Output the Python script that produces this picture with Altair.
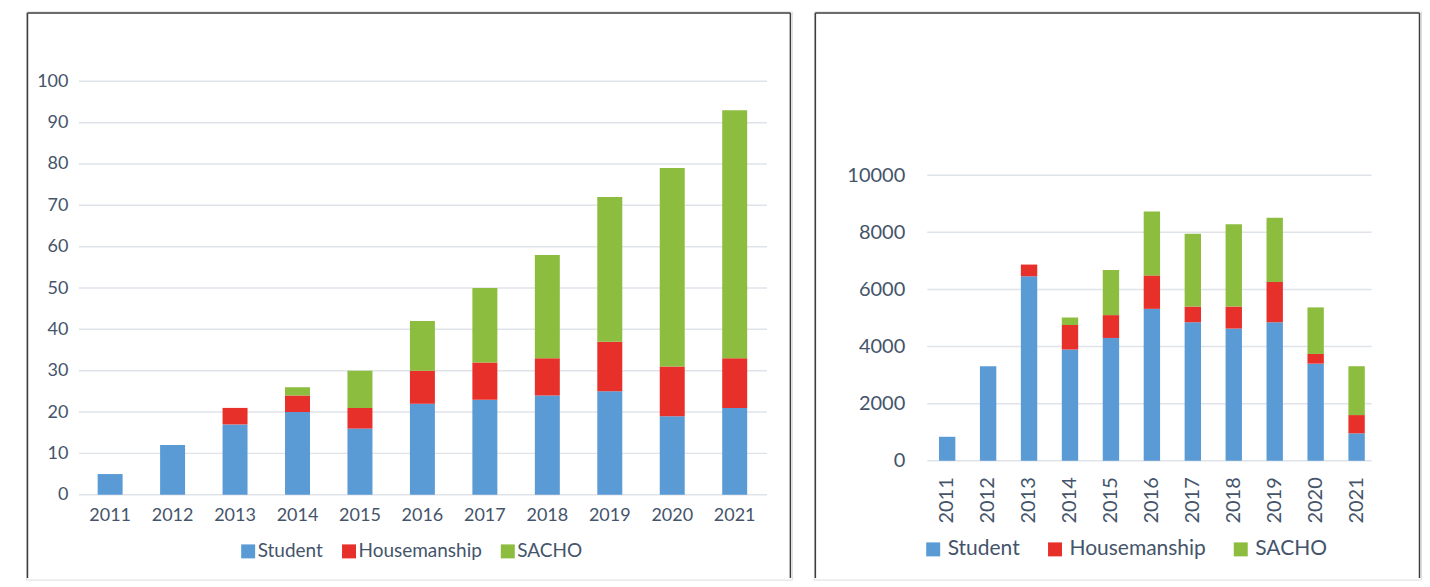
import altair as alt
import pandas as pd

years = [2011, 2012, 2013, 2014, 2015, 2016, 2017, 2018, 2019, 2020, 2021]
series = ["Student", "Housemanship", "SACHO"]
colors = ["#5b9bd5", "#e8302a", "#8cbd3f"]

left_student = [5, 12, 17, 20, 16, 22, 23, 24, 25, 19, 21]
left_house = [0, 0, 4, 4, 5, 8, 9, 9, 12, 12, 12]
left_sacho = [0, 0, 0, 2, 9, 12, 18, 25, 35, 48, 60]
left_ticks = [0, 10, 20, 30, 40, 50, 60, 70, 80, 90, 100]

right_student = [840, 3310, 6460, 3900, 4300, 5320, 4850, 4630, 4850, 3400, 960]
right_house = [0, 0, 410, 850, 800, 1170, 550, 770, 1410, 340, 640]
right_sacho = [0, 0, 0, 270, 1580, 2240, 2550, 2880, 2250, 1630, 1710]
right_ticks = [0, 2000, 4000, 6000, 8000, 10000]

FONT = "Lato"
TXT = "#44546a"
GRID = "#dfe4eb"
BOX = "#3c3c3c"


def long_df(a, b, c):
    rows = []
    for i, y in enumerate(years):
        for k, (s, vals) in enumerate(zip(series, [a, b, c])):
            rows.append({"year": str(y), "series": s, "idx": k, "value": vals[i]})
    return pd.DataFrame(rows)


def panel(df, ticks, W, H, xr, yr, grid_x, ylab_pad, xoff, xlab_pad, xangle,
          fsize, legx, legy, legfs, legoff, legcol):
    yscale = alt.Scale(domain=[ticks[0], ticks[-1]], range=yr, nice=False)
    yaxis = alt.Axis(
        values=ticks, format="d", domain=False, ticks=False, tickSize=0, grid=False,
        labelFont=FONT, labelFontSize=fsize, labelColor=TXT,
        offset=-xr[0], labelPadding=ylab_pad, title=None,
    )
    grid_df = pd.DataFrame({"value": ticks})
    grid = alt.Chart(grid_df).mark_rule(color=GRID, strokeWidth=1.5).encode(
        y=alt.Y("value:Q", scale=yscale, axis=yaxis),
        x=alt.value(grid_x[0]), x2=alt.value(grid_x[1]),
    )
    bars = alt.Chart(df).mark_bar().encode(
        x=alt.X(
            "year:O",
            scale=alt.Scale(range=xr, paddingInner=0.6, paddingOuter=0.3),
            axis=alt.Axis(
                domain=False, ticks=False, tickSize=0, labelAngle=xangle,
                labelFont=FONT, labelFontSize=fsize, labelColor=TXT,
                offset=-xoff, labelPadding=xlab_pad, title=None,
            ),
        ),
        y=alt.Y("value:Q", stack="zero", scale=yscale, axis=yaxis),
        color=alt.Color(
            "series:N",
            scale=alt.Scale(domain=series, range=colors),
            sort=series,
            legend=alt.Legend(
                orient="none", legendX=legx, legendY=legy, direction="horizontal",
                title=None, symbolType="square", symbolSize=196,
                symbolStrokeWidth=0, symbolOpacity=1, labelFont=FONT,
                labelFontSize=legfs, labelColor=TXT, labelOffset=legoff,
                columnPadding=legcol, padding=0,
            ),
        ),
        order=alt.Order("idx:Q", sort="ascending"),
    )
    one = alt.Data(values=[{"a": 1}])
    left_edge = alt.Chart(one).mark_rule(color=BOX, strokeWidth=1.5).encode(
        x=alt.value(1.5), y=alt.value(1.5), y2=alt.value(H - 1.5)
    )
    top_edge = alt.Chart(one).mark_rule(color=BOX, strokeWidth=1.5).encode(
        x=alt.value(1.5), x2=alt.value(W - 1.5), y=alt.value(1.5)
    )
    right_edge = alt.Chart(one).mark_rule(color=BOX, strokeWidth=1.5).encode(
        x=alt.value(W - 1.5), y=alt.value(1.5), y2=alt.value(H - 1.5)
    )
    return alt.layer(grid, bars, left_edge, top_edge, right_edge).properties(
        width=W, height=H
    )


H = 569
left = panel(
    long_df(left_student, left_house, left_sacho), left_ticks,
    W=767, H=H, xr=[53, 741], yr=[484, 70], grid_x=[53, 742],
    ylab_pad=11, xoff=H - 484, xlab_pad=12, xangle=0, fsize=18,
    legx=213, legy=531, legfs=19, legoff=0, legcol=16,
)
right = panel(
    long_df(right_student, right_house, right_sacho), right_ticks,
    W=608, H=H, xr=[113, 564], yr=[450, 164], grid_x=[113.5, 558.5],
    ylab_pad=22, xoff=H - 450, xlab_pad=16, xangle=-90, fsize=20,
    legx=109, legy=528, legfs=21, legoff=4, legcol=24,
)

chart = (
    alt.hconcat(left, right, spacing=20)
    .resolve_scale(color="independent", x="independent", y="independent")
    .resolve_legend(color="independent")
    .properties(padding={"left": 17, "top": 2, "right": 0, "bottom": 0})
    .configure_view(stroke=None)
    .configure(background="white")
)

chart.save("out.html", embed_options={"renderer": "svg", "actions": False})
